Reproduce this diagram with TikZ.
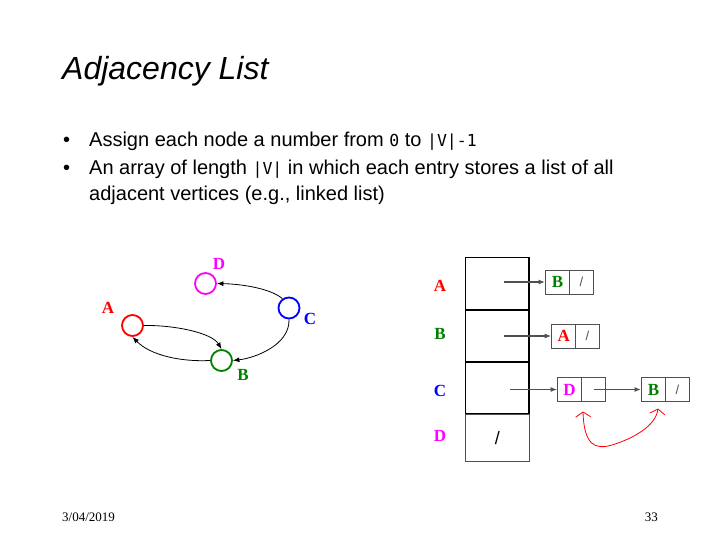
\documentclass[tikz,border=0pt]{standalone}
\usepackage{fontspec}
\setmainfont{Liberation Sans}
\newfontfamily\serifb{Liberation Serif}
\newfontfamily\monof{DejaVu Sans Mono}
\usetikzlibrary{arrows.meta}
\definecolor{cred}{RGB}{255,0,0}
\definecolor{cgreen}{RGB}{0,128,0}
\definecolor{cblue}{RGB}{0,0,255}
\definecolor{cmag}{RGB}{255,0,255}
\definecolor{cgray}{RGB}{80,80,80}
\newcommand{\mono}[1]{{\monof\fontsize{16.5}{20}\selectfont #1}}
\newcommand{\nil}{\textcolor{cgray}{\normalfont\fontsize{13}{15}\selectfont /}}
\begin{document}
\begin{tikzpicture}[x=1pt,y=-1pt,
  txt/.style={anchor=base west,inner sep=0pt,font=\fontsize{20}{24}\selectfont},
  lbl/.style={inner sep=0pt,font=\serifb\bfseries\fontsize{17}{20}\selectfont},
  vert/.style={circle,draw,line width=1.8pt,minimum size=21pt,inner sep=0pt},
  edge/.style={black,line width=0.8pt,-{Latex[length=6.5pt,width=5pt]}},
  cell/.style={draw=black,line width=1.3pt,minimum width=63.3pt,inner sep=0pt},
  half/.style={draw=cgray,line width=1pt,minimum width=24pt,minimum height=24pt,inner sep=0pt,font=\serifb\bfseries\fontsize{17}{20}\selectfont},
  ptr/.style={cgray,line width=1.2pt,-{Latex[length=6.5pt,width=5pt]}}
]
\useasboundingbox[fill=white] (0,0) rectangle (720,540);

% title and bullets
\node[anchor=base west,inner sep=0pt,font=\fontsize{32}{38}\selectfont\itshape] (title) at (62,80) {Adjacency List};
\node[txt] (b1) at (63,147) {•};
\node[txt] (t1) at (89,147) {Assign each node a number from \mono{0} to \mono{|V|-1}};
\node[txt] (b2) at (63,175) {•};
\node[txt] (t2) at (89,175) {An array of length \mono{|V|} in which each entry stores a list of all};
\node[txt] (t3) at (89,201) {adjacent vertices (e.g., linked list)};

% graph
\node[vert,draw=cmag] (nD) at (205.5,283.5) {};
\node[vert,draw=cblue] (nC) at (289,308) {};
\node[vert,draw=cred] (nA) at (132.5,325.5) {};
\node[vert,draw=cgreen] (nB) at (221.5,360.5) {};
\node[lbl,text=cmag] (lD) at (219,264) {D};
\node[lbl,text=cred] (lA) at (108,308) {A};
\node[lbl,text=cblue] (lC) at (310,319) {C};
\node[lbl,text=cgreen] (lB) at (243,375) {B};
\draw[edge] (nA.east) .. controls (175,325) and (212,333) .. (nB.north);
\draw[edge] (nB.west) .. controls (180,362) and (150,355) .. (nA.south);
\draw[edge] (nC.125) .. controls (270,288) and (240,284) .. (nD.east);
\draw[edge] (nC.south) .. controls (290,345) and (255,358) .. (nB.east);

% array
\node[cell,minimum height=52.3pt] (cA) at (497.35,283.85) {};
\node[cell,minimum height=52pt] (cB) at (497.35,336) {};
\node[cell,minimum height=52pt] (cC) at (497.35,388) {};
\node[cell,draw=cgray,line width=1pt,minimum height=47.7pt,font=\fontsize{18}{20}\selectfont] (cD) at (497.35,437.85) {/};
\node[lbl,text=cred] (rA) at (440,286) {A};
\node[lbl,text=cgreen] (rB) at (440,334) {B};
\node[lbl,text=cblue] (rC) at (440,391) {C};
\node[lbl,text=cmag] (rD) at (440,436) {D};

% lists
\node[half,text=cgreen] (a1) at (557.5,282) {B};
\node[half] (a2) at (581.3,282) {\nil};
\node[half,text=cred] (b1n) at (563.7,336) {A};
\node[half] (b2n) at (587.5,336) {\nil};
\node[half,text=cmag] (c1) at (569.6,389.5) {D};
\node[half] (c2) at (593.6,389.5) {};
\node[half,text=cgreen] (d1) at (653.5,389.5) {B};
\node[half] (d2) at (677.5,389.5) {\nil};

\coordinate (pA) at (504,282);
\coordinate (pB) at (504,336);
\coordinate (pC) at (510,389.5);
\draw[ptr] (pA) -- (a1.west);
\draw[ptr] (pB) -- (b1n.west);
\draw[ptr] (pC) -- (c1.west);
\draw[ptr] (c2.center) -- (d1.west);

% red curve
\coordinate (r1) at (583,411.5);
\coordinate (r2) at (658,408.5);
\draw[cred,line width=0.8pt,{Straight Barb[length=5pt,width=15pt]}-{Straight Barb[length=5pt,width=15pt]}]
  (r1) .. controls (584,445) and (595,450) .. (612,445) .. controls (635,438) and (656,425) .. (r2);

% footer
\node[anchor=base west,inner sep=0pt,font=\serifb\fontsize{13}{15}\selectfont] (foot1) at (62,521) {3/04/2019};
\node[anchor=base east,inner sep=0pt,font=\serifb\fontsize{13}{15}\selectfont] (foot2) at (658,521) {33};
\end{tikzpicture}
\end{document}
